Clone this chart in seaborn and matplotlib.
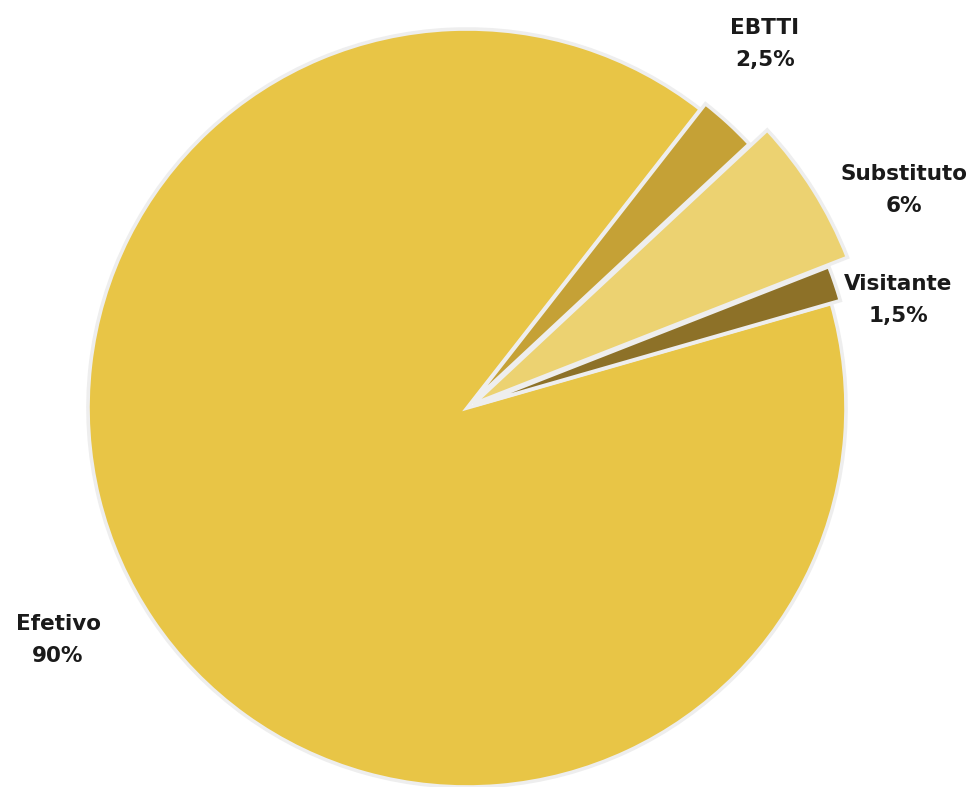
import matplotlib
matplotlib.use("Agg")
import matplotlib.pyplot as plt
import seaborn as sns

# dados
categorias = ["Efetivo", "EBTTI", "Substituto", "Visitante"]
percentuais = [90, 2.5, 6, 1.5]
rotulos_pct = ["90%", "2,5%", "6%", "1,5%"]
cores = ["#E8C546", "#C5A136", "#ECD271", "#8D7128"]

sns.set_theme(style="white")
plt.rcParams['font.family'] = ['DejaVu Sans']

W, H = 977, 787
CX, CY, R = 467, 408, 379  # centro e raio em pixels

fig = plt.figure(figsize=(W / 100, H / 100), dpi=100)
ax = fig.add_axes([0, 0, 1, 1])

explode = [0, 0.02, 0.02, 0.02]
wedges, _ = ax.pie(percentuais, colors=cores, startangle=16, counterclock=False,
                   explode=explode, radius=1.0,
                   wedgeprops=dict(edgecolor="#eeeeee", linewidth=2.6))

# fatias menores um pouco maiores, como no original
raios = [1.0, 1.0, 1.06, 1.005]
for w, r in zip(wedges, raios):
    w.set_radius(r)

ax.set_xlim(-CX / R, (W - CX) / R)
ax.set_ylim(-(H - CY) / R, CY / R)
ax.set_aspect('auto')
ax.axis('off')

# posições dos rótulos (pixels)
pos_rotulos = [(58, 640), (765, 44), (904, 190), (898, 300)]
for cat, pct, (px, py) in zip(categorias, rotulos_pct, pos_rotulos):
    ax.text(px / W, 1 - py / H, f"{cat}\n{pct}", transform=ax.transAxes,
            ha='center', va='center', fontsize=15.5, fontweight='heavy',
            color='#1a1a1a', linespacing=1.7)

fig.savefig("out.png", dpi=100)
